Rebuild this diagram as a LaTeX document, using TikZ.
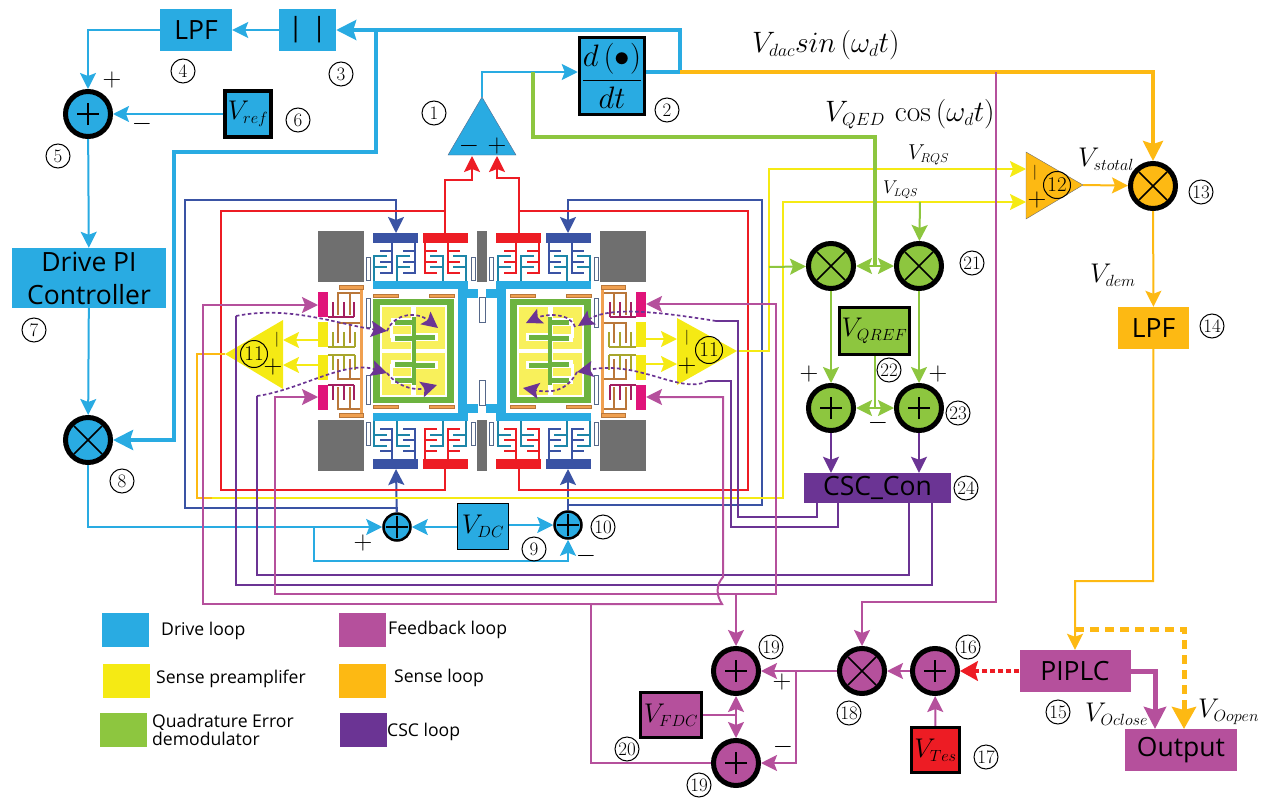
\documentclass[tikz,border=0pt]{standalone}
\usepackage{fix-cm}
\usepackage{fontspec}
\usetikzlibrary{arrows.meta}
\newfontfamily\labelfont{Open Sans}
\renewcommand{\defaultscriptratio}{.6}
\definecolor{driveblue}{HTML}{29ABE2}
\definecolor{senseyellow}{HTML}{F5EA14}
\definecolor{quadgreen}{HTML}{8DC63F}
\definecolor{massgreen}{HTML}{6CB33F}
\definecolor{fbpink}{HTML}{B5509C}
\definecolor{senseorange}{HTML}{FDB913}
\definecolor{cscpurple}{HTML}{6B3494}
\definecolor{padblue}{HTML}{3A53A4}
\definecolor{padred}{HTML}{ED1C24}
\definecolor{padgray}{HTML}{6F6F6F}
\definecolor{padmagenta}{HTML}{E0147A}
\definecolor{combmagenta}{HTML}{A31F5F}
\definecolor{combolive}{HTML}{A8A62C}
\definecolor{combbrown}{HTML}{B9773A}
\definecolor{barorange}{HTML}{F0A050}
\definecolor{springslate}{HTML}{56688A}
\definecolor{combcyan}{HTML}{1D86A8}
\tikzset{
  addnode/.style={circle,draw=black,line width=5pt,minimum size=45pt,inner sep=0pt,fill=#1,
    path picture={\draw[black,line width=1.5pt]
      ([xshift=-11pt]path picture bounding box.center) -- ([xshift=11pt]path picture bounding box.center)
      ([yshift=-11pt]path picture bounding box.center) -- ([yshift=11pt]path picture bounding box.center);}},
  mulnode/.style={circle,draw=black,line width=5pt,minimum size=45pt,inner sep=0pt,fill=#1,
    path picture={\draw[black,line width=1.5pt]
      ([shift={(-14pt,-14pt)}]path picture bounding box.center) -- ([shift={(14pt,14pt)}]path picture bounding box.center)
      ([shift={(-14pt,14pt)}]path picture bounding box.center) -- ([shift={(14pt,-14pt)}]path picture bounding box.center);}},
  smallsum/.style={circle,draw=black,line width=2.5pt,minimum size=27pt,inner sep=0pt,fill=driveblue,
    path picture={\draw[black,line width=1.5pt]
      ([xshift=-11pt]path picture bounding box.center) -- ([xshift=11pt]path picture bounding box.center)
      ([yshift=-11pt]path picture bounding box.center) -- ([yshift=11pt]path picture bounding box.center);}},
  flatbox/.style={fill=#1,inner sep=0pt,font=\labelfont\fontsize{26.5}{33}\selectfont,align=center},
  blackbox/.style={draw=black,line width=3.5pt,fill=#1,inner sep=0pt,font=\fontsize{27}{30}\selectfont},
  numlabel/.style={circle,draw=black,line width=1pt,minimum size=24pt,inner sep=0pt,font=\fontsize{19}{19}\selectfont},
  bigmath/.style={anchor=west,inner sep=0pt,font=\fontsize{27}{30}\selectfont},
  sign/.style={inner sep=0pt,font=\fontsize{26}{26}\selectfont},
  barsign/.style={inner sep=0pt,font=\fontsize{15}{15}\selectfont},
  legendbox/.style={fill=#1,minimum width=47pt,minimum height=34pt,inner sep=0pt},
  legendtext/.style={anchor=west,inner sep=0pt,align=left,font=\labelfont\fontsize{17.6}{16}\selectfont},
  drivewire/.style={draw=driveblue,line width=2pt},
  drivethick/.style={draw=driveblue,line width=4pt,>={Stealth[length=20pt,width=20pt,inset=3pt]}},
  padbluewire/.style={draw=padblue,line width=2pt},
  redwire/.style={draw=padred,line width=2pt},
  yellowwire/.style={draw=senseyellow,line width=2pt},
  greenwire/.style={draw=quadgreen,line width=2pt},
  pinkwire/.style={draw=fbpink,line width=2pt},
  orangewire/.style={draw=senseorange,line width=2pt},
  purplewire/.style={draw=cscpurple,line width=2pt},
  dashpurple/.style={draw=cscpurple,line width=1.7pt,dash pattern=on 3.5pt off 2.5pt},
  finger/.style={line width=2pt}
}
\begin{document}
\begin{tikzpicture}[x=1pt,y=-1pt,>={Stealth[length=16pt,width=16pt,inset=3pt]}]
    \useasboundingbox (0,0) rectangle (1270,798);

    %% MEMS structure, one quarter drawn four times
    \foreach \fx in {1,-1} \foreach \fy in {1,-1} {
    \begin{scope}[shift={(482,351)},xscale=\fx,yscale=\fy,shift={(-482,-351)}]
        %% Anchors and pads
        \fill[padgray] (318,231) rectangle (364,282);
        \fill[padgray] (477,231) rectangle (487,282);
        \fill[padblue] (373,233) rectangle (418,243);
        \fill[padred] (423,233) rectangle (468,243);
        \fill[padmagenta] (318,292) rectangle (328,317);
        \fill[senseyellow] (318,322) rectangle (328,347);
        %% Drive combs
        \foreach \c in {0,23} {
            \draw[finger,padblue] (392+\c,243) -- (392+\c,273) -- (380+\c,273) (392+\c,251) -- (380+\c,251) (392+\c,262) -- (380+\c,262);
            \draw[finger,combcyan] (374+\c,281) -- (374+\c,256) -- (387+\c,256) (374+\c,267) -- (387+\c,267);
            \draw[finger,padred] (425+\c,243) -- (425+\c,273) -- (437+\c,273) (425+\c,251) -- (437+\c,251) (425+\c,262) -- (437+\c,262);
            \draw[finger,combcyan] (443+\c,281) -- (443+\c,256) -- (430+\c,256) (443+\c,267) -- (430+\c,267);
        }
        %% Sense combs
        \draw[finger,combmagenta] (328,317) -- (354,317) (333,317) -- (333,302) (344,317) -- (344,302) (354,317) -- (354,302);
        \draw[finger,combbrown] (338,315) -- (338,293) -- (362,293) (350,315) -- (350,293);
        \draw[finger,combolive] (328,347) -- (355,347) (333,347) -- (333,332) (344,347) -- (344,332) (355,347) -- (355,332);
        \draw[finger,combbrown] (338,343) -- (338,323) -- (362,323) (350,343) -- (350,323);
        \fill[barorange] (360,285) rectangle (363,351);
        %% Springs
        \draw[line width=1pt,combbrown,fill=barorange] (339,285) rectangle (363,289);
        \draw[line width=1pt,combbrown,fill=barorange] (373,294) rectangle (398,297);
        \draw[line width=1pt,combbrown,fill=barorange] (429,294) rectangle (454,297);
        \draw[line width=1pt,springslate,fill=white] (366,257) rectangle (370,280);
        \draw[line width=1pt,springslate,fill=white] (471,257) rectangle (475,280);
        \draw[line width=1pt,springslate,fill=white] (366,298) rectangle (370,327);
        \draw[line width=1pt,springslate,fill=white] (479,297) rectangle (485,322);
        %% Drive frame
        \fill[driveblue] (373,281) rectangle (468,289);
        \fill[driveblue] (458,281) rectangle (467,351.5);
        \fill[driveblue] (467,289) rectangle (478,298);
        %% Proof mass
        \fill[massgreen] (373,299) rectangle (454,351.5);
        \fill[white] (380,305) rectangle (447,351.5);
        \fill[senseyellow!70!white] (382,307) rectangle (411,349);
        \fill[senseyellow!70!white] (416,307) rectangle (445,349);
        \draw[line width=3pt,white] (391.5,322) -- (391.5,338);
        \draw[line width=8pt,white] (391,322) -- (412,322) (391,338) -- (412,338) (416,337) -- (438,337);
        \draw[line width=5pt,massgreen] (395,322) -- (414,322) (395,338) -- (414,338) (414,337) -- (435,337);
        \fill[massgreen] (412,317) rectangle (416,351.5);
    \end{scope}
    }

    %% Pad connection points
    \coordinate (padBlueTL) at (396,233);
    \coordinate (padBlueBL) at (396,469);
    \coordinate (padBlueTR) at (568,233);
    \coordinate (padBlueBR) at (568,469);
    \coordinate (padRedTL) at (445,233);
    \coordinate (padRedBL) at (445,469);
    \coordinate (padRedTR) at (519,233);
    \coordinate (padRedBR) at (519,469);
    \coordinate (fbTL) at (318,305);
    \coordinate (fbBL) at (318,397);
    \coordinate (fbTR) at (646,304);
    \coordinate (fbBR) at (646,397);

    %% Drive loop blocks
    \node[flatbox=driveblue,minimum width=72pt,minimum height=42pt] (lpfA) at (196,30) {LPF};
    \node[flatbox=driveblue,minimum width=57pt,minimum height=42pt] (absA) at (307.5,30) {|\,\,|};
    \node[addnode=driveblue] (sumA) at (88,114) {};
    \node[blackbox=driveblue,minimum size=46pt] (vref) at (248,114) {$V_{ref}$};
    \node[flatbox=driveblue,minimum width=154pt,minimum height=60pt] (drivePI) at (89,278) {Drive PI\\Controller};
    \node[mulnode=driveblue] (mulA) at (88,440) {};
    \node[blackbox=driveblue,minimum width=65pt,minimum height=77pt,font=\fontsize{31}{34}\selectfont] (ddt) at (612,76) {$\displaystyle\frac{d\left(\bullet\right)}{dt}$};
    \node[smallsum] (sumL) at (397,527) {};
    \node[smallsum] (sumR) at (568,525) {};
    \node[draw=black,line width=1pt,fill=driveblue,minimum width=51pt,minimum height=46pt,inner sep=0pt,font=\fontsize{27}{30}\selectfont] (vdc) at (483,526) {$V_{DC}$};

    %% Quadrature blocks
    \node[mulnode=quadgreen] (mulQL) at (831,266) {};
    \node[mulnode=quadgreen] (mulQR) at (919,266) {};
    \node[blackbox=quadgreen,minimum width=70pt,minimum height=47pt] (vqref) at (874.5,331) {$V_{QREF}$};
    \node[addnode=quadgreen] (sumQL) at (831,408) {};
    \node[addnode=quadgreen] (sumQR) at (919,408) {};
    \node[flatbox=cscpurple,minimum width=147pt,minimum height=30pt] (csc) at (877.5,488) {CSC\_Con};

    %% Sense blocks
    \node[mulnode=senseorange] (mulS) at (1153,186) {};
    \node[flatbox=senseorange,minimum width=71pt,minimum height=42pt] (lpfS) at (1153.5,328) {LPF};

    %% Feedback blocks
    \node[flatbox=fbpink,minimum width=111pt,minimum height=42pt] (piplc) at (1075,671) {PIPLC};
    \node[flatbox=fbpink,minimum width=112pt,minimum height=42pt] (output) at (1181,750) {Output};
    \node[addnode=fbpink] (sumT) at (935,671) {};
    \node[mulnode=fbpink] (mulF) at (862,671) {};
    \node[addnode=fbpink] (sumFU) at (736,671) {};
    \node[addnode=fbpink] (sumFD) at (736,763) {};
    \node[blackbox=padred,minimum width=48pt,minimum height=45pt] (vtes) at (935.5,750) {$V_{Tes}$};
    \node[blackbox=fbpink,minimum width=61pt,minimum height=45pt] (vfdc) at (671,715) {$V_{FDC}$};

    %% Amplifiers
    \draw[fill=driveblue,draw=springslate] (482,97) coordinate (ampAout) -- (516,155) -- (448,155) -- cycle;
    \coordinate (ampAminus) at (472,156);
    \coordinate (ampAplus) at (497,156);
    \fill[senseyellow] (225,354) coordinate (ampLout) -- (283,320) -- (283,389) -- cycle;
    \coordinate (ampLminus) at (283,340);
    \coordinate (ampLplus) at (283,365);
    \fill[senseyellow] (737,351) coordinate (ampRout) -- (677,318) -- (677,385) -- cycle;
    \coordinate (ampRminus) at (677,339);
    \coordinate (ampRplus) at (677,364);
    \draw[fill=senseorange,draw=padgray] (1083,185) coordinate (ampSout) -- (1026,152) -- (1026,219) -- cycle;
    \coordinate (ampSminus) at (1026,169);
    \coordinate (ampSplus) at (1026,202);

    %% Drive wires
    \draw[drivewire,->] (absA) -- (lpfA);
    \draw[drivewire,->] (lpfA) -| (sumA);
    \draw[drivewire,->] (vref) -- (sumA);
    \draw[drivewire,->] (sumA) -- (drivePI);
    \draw[drivewire,->] (drivePI) -- (mulA);
    \draw[drivewire,->] (ampAout) |- (ddt.west |- 0,72);
    \coordinate (ddtOut) at (680,72);
    \coordinate (absBranch) at (376,30);
    \draw[drivethick] (ddt.east |- ddtOut) -- (ddtOut) -- (680,30) -- (absBranch);
    \draw[drivethick,->] (absBranch) -- (absA);
    \draw[drivethick,->] (absBranch) -- (376,152) -- (174,152) |- (mulA);
    \draw[drivewire,->] (mulA) |- (sumL);
    \coordinate (sumBranch) at (314,527);
    \draw[drivewire,->] (sumBranch) |- (568,561) -- (sumR);
    \draw[drivewire,->] (vdc.west |- sumL) -- (sumL);
    \draw[drivewire,->] (vdc.east |- sumR) -- (sumR);

    %% Pad wires
    \draw[padbluewire,->] (sumL) -- (padBlueBL);
    \draw[padbluewire,->] (sumR) -- (padBlueBR);
    \draw[padbluewire,->] (sumL) -- (397,508) -- (185,508) -- (185,200) -- (396,200) -- (padBlueTL);
    \draw[padbluewire,->] (sumR) -- (568,505) -- (762,505) -- (762,200) -- (568,200) -- (padBlueTR);
    \draw[redwire,->] (padRedTL) -- (445,180) -- (472,180) -- (ampAminus);
    \draw[redwire,->] (padRedTR) -- (519,178) -- (497,178) -- (ampAplus);
    \draw[redwire] (445,211) -- (221,211) -- (221,490) -- (445,490) -- (padRedBL);
    \draw[redwire] (519,211) -- (748,211) -- (748,490) -- (519,490) -- (padRedBR);

    %% Preamplifier wires
    \draw[yellowwire,->] (318,340) -- (ampLminus);
    \draw[yellowwire,->] (318,365) -- (ampLplus);
    \draw[yellowwire,->] (646,339) -- (ampRminus);
    \draw[yellowwire,->] (646,364) -- (ampRplus);
    \draw[yellowwire,->] (212,498) -- (783,498) -- (783,202) -- (ampSplus);
    \draw[orangewire] (ampLout) -- (197,354) -- (197,498) -- (212,498);
    \draw[yellowwire,->] (ampRout) -- (769,351) -- (769,169) -- (ampSminus);

    %% Sense wires
    \draw[draw=senseorange,line width=4pt,->,>={Stealth[length=20pt,width=20pt,inset=3pt]}] (ddtOut) -- (1153,72) -- (mulS);
    \draw[orangewire,->] (ampSout) -- (mulS);
    \draw[orangewire,->] (mulS) -- (lpfS);
    \draw[orangewire,->] (lpfS) -- (1153,581) -- (1075,581) -- (piplc);
    \draw[draw=senseorange,line width=5pt,dash pattern=on 9pt off 6pt] (1075,629) -- (1184,629) -- (1184,705);
    \draw[draw=senseorange,line width=5pt,->,>={Stealth[length=22pt,width=24pt,inset=3pt]}] (1184,705) -- (1184,729);

    %% Quadrature wires
    \coordinate (quadIn) at (533,72);
    \coordinate (quadMid) at (875,266);
    \draw[draw=quadgreen,line width=3.5pt] (quadIn) -- (533,137) -- (875,137) -- (quadMid);
    \draw[greenwire,<->] (mulQL) -- (mulQR);
    \draw[greenwire,->] (769,267) -- (mulQL);
    \draw[greenwire,->] (920,202) -- (mulQR);
    \draw[greenwire,->] (mulQL) -- (sumQL);
    \draw[greenwire,->] (mulQR) -- (sumQR);
    \draw[greenwire,<->] (sumQL) -- (sumQR);
    \draw[greenwire] (vqref) -- (vqref |- sumQL);

    %% CSC wires
    \draw[purplewire,->] (sumQL) -- (sumQL |- csc.north);
    \draw[purplewire,->] (sumQR) -- (sumQR |- csc.north);
    \coordinate (cscA) at (817,503);
    \coordinate (cscB) at (838,503);
    \coordinate (cscC) at (909,503);
    \coordinate (cscD) at (932,503);
    \draw[purplewire] (cscA) -- (817,517) -- (738,517) -- (738,321) -- (716,321);
    \draw[purplewire] (cscB) -- (838,527) -- (731,527) -- (731,381) -- (708,381);
    \draw[purplewire] (cscC) -- (909,575) -- (257,575) -- (257,396);
    \draw[purplewire] (cscD) -- (932,585) -- (236,585) -- (236,316);
    \draw[dashpurple,->] (236,316) .. controls (290,305) and (340,325) .. (387,331);
    \draw[dashpurple,->] (387,331) .. controls (395,312) and (418,312) .. (438,328);
    \draw[dashpurple,->] (257,396) .. controls (300,390) and (345,360) .. (387,373);
    \draw[dashpurple,->] (387,373) .. controls (400,390) and (420,390) .. (437,385);
    \draw[dashpurple,->] (716,321) .. controls (660,312) and (610,306) .. (578,326);
    \draw[dashpurple,->] (575,327) .. controls (570,312) and (545,314) .. (526,323);
    \draw[dashpurple,->] (708,381) .. controls (680,395) and (640,360) .. (577,372);
    \draw[dashpurple,->] (577,372) .. controls (565,395) and (545,392) .. (523,388);

    %% Feedback wires
    \draw[pinkwire,->] (996,72) -- (996,602) -- (862,602) -- (mulF);
    \draw[draw=padred,line width=3.5pt,dash pattern=on 5pt off 3pt] (piplc) -- (970,671);
    \draw[draw=padred,line width=2pt,->,>={Stealth[length=18pt,width=20pt,inset=3pt]}] (970,671) -- (sumT);
    \coordinate (outIn) at (1155,729);
    \draw[draw=fbpink,line width=5pt,->,>={Stealth[length=22pt,width=22pt,inset=3pt]}] (piplc) -| (outIn);
    \draw[pinkwire,->] (vtes) -- (sumT);
    \draw[pinkwire,->] (sumT) -- (mulF);
    \draw[pinkwire,->] (mulF) -- (sumFU);
    \draw[pinkwire,->] (796,671) |- (sumFD);
    \draw[pinkwire,<->] (sumFU) -- (sumFD);
    \draw[pinkwire] (vfdc) -- (736,715);
    \draw[pinkwire,->] (736,594) -- (sumFU);
    \draw[pinkwire,->] (736,594) -- (776,594) -- (776,304) -- (fbTR);
    \draw[pinkwire,->] (736,594) -- (275,594) -- (275,397) -- (fbBL);
    \draw[pinkwire,->] (591,604) -- (203,604) -- (203,305) -- (fbTL);
    \draw[pinkwire,->] (591,604) -- (722,604) .. controls (716,595) and (716,585) .. (723,577) -- (723,397) -- (fbBR);
    \draw[pinkwire] (sumFD) -- (591,763) -- (591,604);

    %% Signs
    \node[sign] (plusA) at (112,80) {$+$};
    \node[sign] (minusA) at (142,124) {$-$};
    \node[sign] (signAm) at (469,146) {$-$};
    \node[sign] (signAp) at (497,146) {$+$};
    \node[barsign] (signLm) at (277,340) {$|$};
    \node[sign] (signLp) at (273,367) {$+$};
    \node[barsign] (signRm) at (687,338) {$|$};
    \node[sign] (signRp) at (687,366) {$+$};
    \node[barsign] (signSm) at (1035,173) {$|$};
    \node[sign] (signSp) at (1037,200) {$+$};
    \node[sign] (plusL) at (363,543) {$+$};
    \node[sign] (minusR) at (586,556) {$-$};
    \node[sign] (plusQL) at (809,374) {$+$};
    \node[sign] (plusQR) at (938,374) {$+$};
    \node[sign] (minusQ) at (878,423) {$-$};
    \node[sign] (plusF) at (782,682) {$+$};
    \node[sign] (minusF) at (783,747) {$-$};

    %% Circled numbers
    \foreach \nx/\ny/\nt in {434/113/1,667/110/2,341/74/3,183/71/4,58/156/5,298/120/6,34/330/7,122/481/8,534/549/9,603/527/10,1201/192/13,1212/326/14,1058/712/15,968/647/16,986/757/17,849/713/18,771/647/19,699/785/19,627/749/20,972/263/21,889/370/22,958/413/23,966/488/24}
        \node[numlabel] (num\nx) at (\nx,\ny) {\nt};
    \node[numlabel,minimum size=27pt,font=\fontsize{21}{21}\selectfont] (numAmpL) at (254,354) {11};
    \node[numlabel,minimum size=27pt,font=\fontsize{21}{21}\selectfont] (numAmpR) at (709,350) {11};
    \node[numlabel,minimum size=27pt,font=\fontsize{21}{21}\selectfont] (numAmpS) at (1057,185) {12};

    %% Signal names
    \node[bigmath,font=\fontsize{29.5}{32}\selectfont] (vdac) at (752,45) {$V_{dac}sin\left(\omega_{d}t\right)$};
    \node[bigmath,font=\fontsize{29.5}{32}\selectfont] (vqed) at (825,114) {$V_{QED}\,\cos\left(\omega_{d}t\right)$};
    \node[bigmath,font=\fontsize{21.5}{24}\selectfont] (vrqs) at (908,155) {$V_{RQS}$};
    \node[bigmath,font=\fontsize{18.5}{20}\selectfont] (vlqs) at (883,190) {$V_{LQS}$};
    \node[bigmath] (vstotal) at (1078,159) {$V_{stotal}$};
    \node[bigmath] (vdem) at (1090,275) {$V_{dem}$};
    \node[bigmath] (voclose) at (1085,714) {$V_{Oclose}$};
    \node[bigmath] (voopen) at (1198,712) {$V_{Oopen}$};

    %% Legend
    \node[legendbox=driveblue] (legDrive) at (125.5,630) {};
    \node[legendbox=senseyellow] (legPre) at (126.5,681) {};
    \node[legendbox=quadgreen] (legQuad) at (123.5,730) {};
    \node[legendbox=fbpink] (legFb) at (362,630) {};
    \node[legendbox=senseorange] (legSense) at (362,681) {};
    \node[legendbox=cscpurple] (legCsc) at (363,730) {};
    \node[legendtext] (txtDrive) at (161,631) {Drive loop};
    \node[legendtext] (txtPre) at (156,679) {Sense preamplifer};
    \node[legendtext] (txtQuad) at (152,730) {Quadrature Error\\demodulator};
    \node[legendtext] (txtFb) at (388,630) {Feedback loop};
    \node[legendtext] (txtSense) at (394,678) {Sense loop};
    \node[legendtext] (txtCsc) at (387,732) {CSC loop};
\end{tikzpicture}
\end{document}
